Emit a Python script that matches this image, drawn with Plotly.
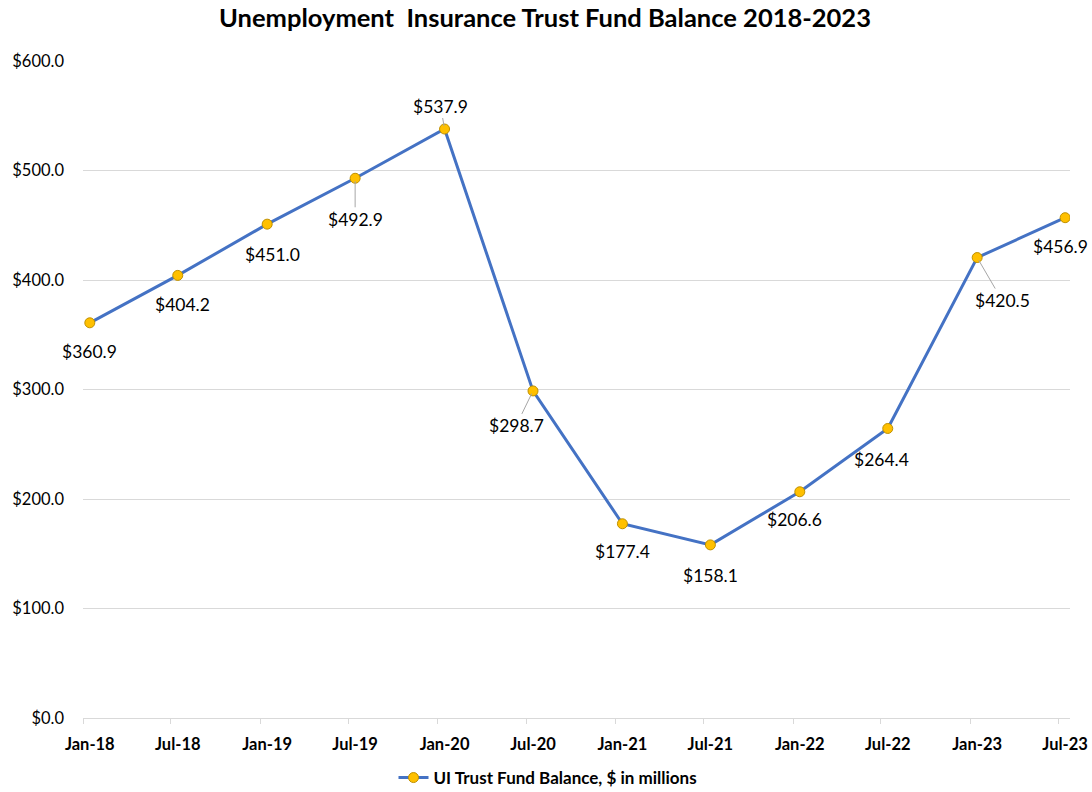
import plotly.graph_objects as go

# ---- data ----
dates = ["2018-01-15", "2018-07-15", "2019-01-15", "2019-07-15", "2020-01-15", "2020-07-15",
         "2021-01-15", "2021-07-15", "2022-01-15", "2022-07-15", "2023-01-15", "2023-07-15"]
tick_labels = ["Jan-18", "Jul-18", "Jan-19", "Jul-19", "Jan-20", "Jul-20",
               "Jan-21", "Jul-21", "Jan-22", "Jul-22", "Jan-23", "Jul-23"]
tick_starts = ["2018-01-01", "2018-07-01", "2019-01-01", "2019-07-01", "2020-01-01", "2020-07-01",
               "2021-01-01", "2021-07-01", "2022-01-01", "2022-07-01", "2023-01-01", "2023-07-01"]
balance = [360.9, 404.2, 451.0, 492.9, 537.9, 298.7, 177.4, 158.1, 206.6, 264.4, 420.5, 456.9]
series_name = "UI Trust Fund Balance, $ in millions"

# label placement (pixel offsets from point), and whether a leader line is drawn
label_dx = [0, 5, 5, 0, -4, -17, 0, 0, -5, -6, 25, -5]
label_dy = [29, 29, 30, 41, -23, 35, 28, 31, 28, 31, 43, 29]
leader = [False, False, False, True, True, True, False, False, False, False, True, False]

FONT = "Lato"

fig = go.Figure()
fig.add_trace(go.Scatter(
    x=dates, y=balance, mode="lines+markers", name=series_name,
    line=dict(color="#4472C4", width=3),
    marker=dict(symbol="circle", size=10, color="#FFC000",
                line=dict(color="#BF9000", width=1)),
    hoverinfo="skip",
))

for d, v, dx, dy, ld in zip(dates, balance, label_dx, label_dy, leader):
    txt = f"${v:.1f}"
    if ld:
        fig.add_annotation(x=d, y=v, text=txt, showarrow=True, arrowhead=0,
                           arrowwidth=1, arrowcolor="#A6A6A6", ax=dx, ay=dy,
                           standoff=3, font=dict(family=FONT, size=17.5, color="#000000"))
    else:
        fig.add_annotation(x=d, y=v, text=txt, showarrow=False,
                           xshift=dx, yshift=-dy,
                           font=dict(family=FONT, size=17.5, color="#000000"))

fig.update_layout(
    width=1092, height=792,
    paper_bgcolor="white", plot_bgcolor="white",
    margin=dict(l=83, r=22, t=61, b=74, autoexpand=False),
    title=dict(text="Unemployment  Insurance Trust Fund Balance 2018-2023",
               x=545 / 1092, xanchor="center", xref="container",
               y=1 - 18 / 792, yanchor="middle", yref="container",
               font=dict(family=FONT, size=25.5, color="#000000", weight="bold")),
    showlegend=True,
    legend=dict(orientation="h", xref="container", yref="container",
                x=548 / 1092, xanchor="center", y=1 - 778 / 792, yanchor="middle",
                font=dict(family=FONT, size=17, color="#000000", weight="bold"),
                bgcolor="rgba(0,0,0,0)"),
    xaxis=dict(
        type="date", range=["2018-01-01", "2023-07-25"], automargin=False,
        tickvals=dates, ticktext=tick_labels, ticks="", showgrid=False,
        showline=True, linecolor="#D9D9D9", linewidth=1,
        ticklabelstandoff=11,
        tickfont=dict(family=FONT, size=16.5, color="#000000", weight="bold"),
        minor=dict(tickvals=tick_starts, ticks="outside", ticklen=5,
                   tickcolor="#D9D9D9", tickwidth=1, showgrid=False),
        zeroline=False,
    ),
    yaxis=dict(
        range=[0, 600], dtick=100, tick0=0, tickprefix="$", tickformat=".1f",
        automargin=False,
        showgrid=True, gridcolor="#D9D9D9", gridwidth=1,
        zeroline=False, showline=False, ticks="",
        ticklabelstandoff=18,
        tickfont=dict(family=FONT, size=16.5, color="#000000"),
    ),
)

fig.write_html("out.html", config={"displayModeBar": False},
               post_script="document.body.style.margin='0';document.body.style.padding='0';")
